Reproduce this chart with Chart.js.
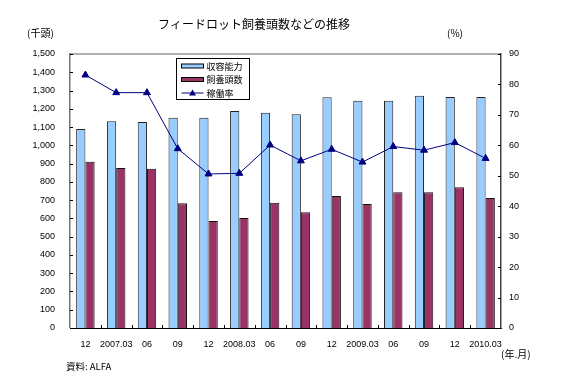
<!DOCTYPE html>
<html><head><meta charset="utf-8">
<script src="https://cdn.jsdelivr.net/npm/chart.js@4.4.0/dist/chart.umd.min.js"></script>
<style>html,body{margin:0;padding:0;background:#fff}#wrap{width:576px;height:384px}</style>
</head><body><div id="wrap"><canvas id="c" width="576" height="384"></canvas></div>
<script>
const categories = ['12','2007.03','06','09','12','2008.03','06','09','12','2009.03','06','09','12','2010.03'];
const capacity = [1089,1132,1128,1151,1151,1188,1179,1170,1263,1244,1244,1272,1265,1264];
const headcount = [910,876,872,683,586,602,686,633,723,679,743,743,770,712];
const utilization = [83.1,77.3,77.3,58.9,50.6,50.8,60.1,54.9,58.7,54.5,59.6,58.4,60.9,55.7];
const seriesNames = ['収容能力','飼養頭数','稼働率'];
const titleText = 'フィードロット飼養頭数などの推移';
const leftUnit = '(千頭)';
const rightUnit = '(%)';
const xUnit = '(年.月)';
const sourceText = '資料: ALFA';

const CJK = '"Noto Sans CJK JP", sans-serif';
const NUM = '"Liberation Sans", Arial, sans-serif';
const BLUE = '#99CCFF', MAROON = '#993366', NAVY = '#000080';

const decor = {
  id: 'decor',
  afterDraw(chart) {
    const ctx = chart.ctx, a = chart.chartArea;
    const x = chart.scales.x, y = chart.scales.y, y1 = chart.scales.y1;
    ctx.save();
    // tick marks (inside)
    ctx.strokeStyle = '#000'; ctx.lineWidth = 1;
    ctx.beginPath();
    for (let i = 1; i < categories.length; i++) {
      const px = Math.round(x.getPixelForValue(i - 0.5)) + 0.5;
      ctx.moveTo(px, a.bottom); ctx.lineTo(px, a.bottom - 3);
    }
    y.ticks.forEach(t => { const py = Math.round(y.getPixelForValue(t.value)) + 0.5; ctx.moveTo(a.left, py); ctx.lineTo(a.left + 3, py); });
    y1.ticks.forEach(t => { const py = Math.round(y1.getPixelForValue(t.value)) + 0.5; ctx.moveTo(a.right, py); ctx.lineTo(a.right - 3, py); });
    ctx.stroke();
    // texts
    ctx.fillStyle = '#000';
    ctx.textBaseline = 'middle';
    ctx.font = '12px ' + CJK; ctx.textAlign = 'center';
    ctx.fillText(titleText, 254, 24);
    ctx.font = '10px ' + CJK; ctx.textAlign = 'left';
    ctx.fillText(leftUnit, 27, 33);
    ctx.fillText(rightUnit, 447, 33);
    ctx.fillText(xUnit, 501, 354);
    ctx.font = '9.5px ' + CJK;
    ctx.fillText(sourceText, 66, 366);
    // legend
    const lx = a.left + 106.5, ly = a.top + 4.5, lw = 73, lh = 41;
    ctx.fillStyle = '#fff'; ctx.fillRect(lx, ly, lw, lh);
    ctx.strokeStyle = '#000'; ctx.lineWidth = 1; ctx.strokeRect(lx, ly, lw, lh);
    const rows = [ly + 7.5, ly + 21, ly + 34.5];
    ctx.fillStyle = BLUE; ctx.fillRect(lx + 5, rows[0] - 2, 22, 4);
    ctx.strokeStyle = '#000'; ctx.strokeRect(lx + 5, rows[0] - 2, 22, 4);
    ctx.fillStyle = MAROON; ctx.fillRect(lx + 5, rows[1] - 2, 22, 4);
    ctx.strokeRect(lx + 5, rows[1] - 2, 22, 4);
    ctx.strokeStyle = NAVY; ctx.beginPath(); ctx.moveTo(lx + 5, rows[2]); ctx.lineTo(lx + 27, rows[2]); ctx.stroke();
    ctx.fillStyle = NAVY; ctx.beginPath();
    ctx.moveTo(lx + 16, rows[2] - 3.5); ctx.lineTo(lx + 19.5, rows[2] + 2.5); ctx.lineTo(lx + 12.5, rows[2] + 2.5); ctx.closePath(); ctx.fill();
    ctx.fillStyle = '#000'; ctx.font = '9px ' + CJK;
    seriesNames.forEach((n, i) => ctx.fillText(n, lx + 30, rows[i] + 0.5));
    ctx.restore();
  }
};

new Chart(document.getElementById('c'), {
  data: {
    labels: categories,
    datasets: [
      { type: 'line', label: seriesNames[2], data: utilization, yAxisID: 'y1', borderColor: NAVY, backgroundColor: NAVY,
        borderWidth: 1, pointStyle: 'triangle', pointRadius: 4, pointHoverRadius: 4, tension: 0, order: 0 },
      { type: 'bar', label: seriesNames[0], data: capacity, yAxisID: 'y', backgroundColor: BLUE, borderColor: '#222',
        borderWidth: 1, borderSkipped: 'start', categoryPercentage: 0.6, barPercentage: 1, order: 1 },
      { type: 'bar', label: seriesNames[1], data: headcount, yAxisID: 'y', backgroundColor: MAROON, borderColor: '#111',
        borderWidth: 1, borderSkipped: 'start', categoryPercentage: 0.6, barPercentage: 1, order: 1 }
    ]
  },
  options: {
    responsive: false, animation: false, devicePixelRatio: 1,
    layout: { padding: { top: 54, left: 0, right: 0, bottom: 0 } },
    plugins: { legend: { display: false }, title: { display: false }, tooltip: { enabled: false } },
    scales: {
      x: {
        offset: true,
        grid: { display: false, drawTicks: false },
        border: { display: true, color: '#000', width: 1 },
        ticks: { autoSkip: false, maxRotation: 0, padding: 11, color: '#000', font: { family: NUM, size: 9 } },
        afterFit(s) { s.height = 56; }
      },
      y: {
        position: 'left', min: 0, max: 1500,
        grid: { drawTicks: false, color: c => (c.tick && c.tick.value === 1500) ? '#b0b0b0' : 'rgba(0,0,0,0)', lineWidth: c => (c.tick && c.tick.value === 1500) ? 2 : 0 },
        border: { display: true, color: '#777', width: 1.5 },
        ticks: { stepSize: 100, padding: 15, color: '#000', font: { family: NUM, size: 9 }, callback: v => v.toLocaleString('en-US') },
        afterFit(s) { s.width = 70; }
      },
      y1: {
        position: 'right', min: 0, max: 90,
        grid: { display: false, drawTicks: false },
        border: { display: true, color: '#444', width: 1.5 },
        ticks: { stepSize: 10, padding: 8, color: '#000', font: { family: NUM, size: 9 } },
        afterFit(s) { s.width = 75; }
      }
    }
  },
  plugins: [decor]
});
</script>
</body></html>
